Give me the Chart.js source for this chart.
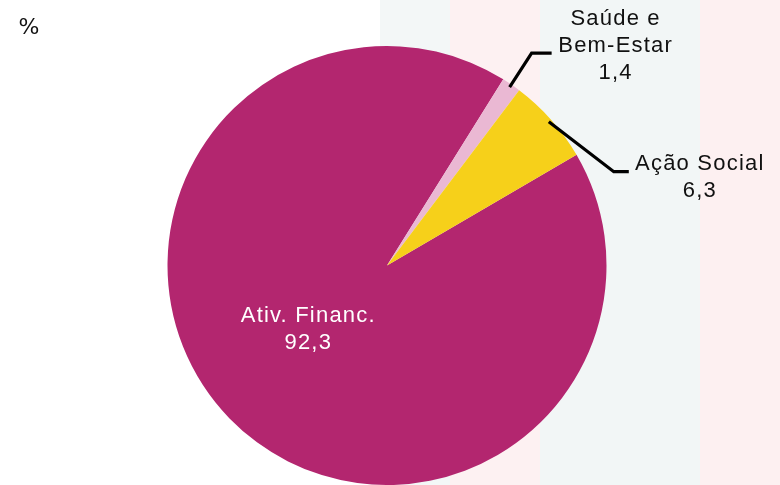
<!DOCTYPE html>
<html>
<head>
<meta charset="utf-8">
<script src="https://cdn.jsdelivr.net/npm/chart.js@4.4.1/dist/chart.umd.min.js"></script>
<style>
  html, body { margin: 0; padding: 0; }
  body {
    width: 780px; height: 485px; overflow: hidden;
    background: linear-gradient(to right, #ffffff 0px, #ffffff 380px, #f3f7f7 380px, #f3f7f7 450px,
      #fdf1f2 450px, #fdf1f2 540px, #f2f6f6 540px, #f2f6f6 700px, #fdf0f1 700px, #fdf0f1 780px);
  }
  #wrap { position: relative; width: 780px; height: 485px; }
</style>
</head>
<body>
<div id="wrap"><canvas id="pie" width="780" height="485"></canvas></div>
<script>
const categories = ['Ativ. Financ.', 'Saúde e Bem-Estar', 'Ação Social'];
const shares = [92.3, 1.4, 6.3];
const sliceColors = ['#b3266f', '#eab8d3', '#f6d01a'];
// how each label is written (lines), value shown with comma decimal
const labelLines = [['Ativ. Financ.'], ['Saúde e', 'Bem-Estar'], ['Ação Social']];
const unitLabel = '%';

function fmt(v) { return v.toFixed(1).replace('.', ','); }

const labelsPlugin = {
    id: 'pieLabels',
    afterDatasetsDraw(chart) {
        const ctx = chart.ctx;
        const arcs = chart.getDatasetMeta(0).data;
        ctx.save();
        ctx.font = '22px "Liberation Sans", Arial, sans-serif';
        ctx.letterSpacing = '1.2px';
        ctx.textAlign = 'center';
        ctx.textBaseline = 'middle';

        const lineH = 27;
        const drawBlock = (lines, cx, cy, color) => {
            ctx.fillStyle = color;
            const top = cy - (lines.length - 1) * lineH / 2;
            lines.forEach((t, i) => ctx.fillText(t, cx, top + i * lineH));
        };
        const edgePoint = (arc, inset) => {
            const mid = (arc.startAngle + arc.endAngle) / 2;
            const r = arc.outerRadius - inset;
            return { x: arc.x + Math.cos(mid) * r, y: arc.y + Math.sin(mid) * r };
        };

        // big slice: label inside
        const big = arcs[0].tooltipPosition();
        drawBlock(labelLines[0].concat([fmt(shares[0])]), big.x, big.y - 13, '#ffffff');

        ctx.strokeStyle = '#000000';
        ctx.lineWidth = 3.2;
        ctx.lineJoin = 'miter';

        // Saúde e Bem-Estar: leader going up-right
        let p = edgePoint(arcs[1], 3);
        let elbow = { x: p.x + 22, y: p.y - 34 };
        let end = { x: elbow.x + 20, y: elbow.y };
        ctx.beginPath();
        ctx.moveTo(p.x, p.y); ctx.lineTo(elbow.x, elbow.y); ctx.lineTo(end.x, end.y);
        ctx.stroke();
        drawBlock(labelLines[1].concat([fmt(shares[1])]), end.x + 64, end.y - 7, '#111111');

        // Ação Social: leader going down-right
        p = edgePoint(arcs[2], 3);
        elbow = { x: p.x + 65, y: p.y + 50 };
        end = { x: elbow.x + 15, y: elbow.y };
        ctx.beginPath();
        ctx.moveTo(p.x, p.y); ctx.lineTo(elbow.x, elbow.y); ctx.lineTo(end.x, end.y);
        ctx.stroke();
        drawBlock(labelLines[2].concat([fmt(shares[2])]), end.x + 71, end.y + 6, '#111111');

        // unit
        ctx.letterSpacing = '0px';
        ctx.font = '22px "DejaVu Sans", sans-serif';
        ctx.fillStyle = '#111111';
        ctx.fillText(unitLabel, 29, 28);
        ctx.restore();
    }
};

new Chart(document.getElementById('pie'), {
    type: 'pie',
    data: {
        labels: categories,
        datasets: [{
            data: shares,
            backgroundColor: sliceColors,
            borderWidth: 0
        }]
    },
    options: {
        responsive: false,
        animation: false,
        rotation: 59.7,
        layout: { padding: { left: 167, right: 173, top: 46, bottom: 0 } },
        plugins: {
            legend: { display: false },
            tooltip: { enabled: false }
        }
    },
    plugins: [labelsPlugin]
});
</script>
</body>
</html>
